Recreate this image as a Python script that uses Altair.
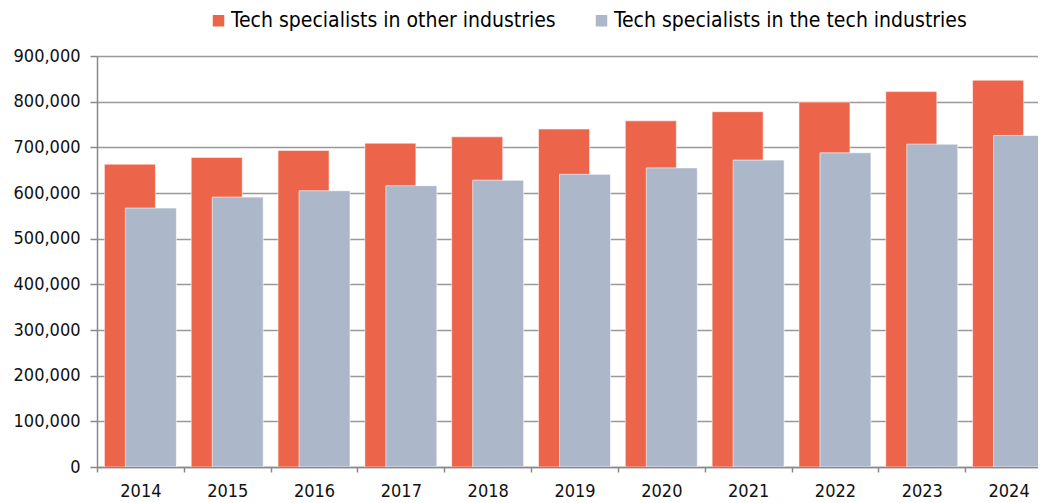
import altair as alt
import pandas as pd

years = ["2014", "2015", "2016", "2017", "2018", "2019", "2020", "2021", "2022", "2023", "2024"]
other_industries = [663000, 678000, 693000, 709000, 723000, 740000, 758000, 778000, 799000, 822000, 847000]
tech_industries = [567000, 591000, 605000, 616000, 628000, 641000, 655000, 672000, 688000, 707000, 726000]
series_names = ["Tech specialists in other industries", "Tech specialists in the tech industries"]
series_colors = ["#EC654B", "#ADB7CA"]
y_ticks = [0, 100000, 200000, 300000, 400000, 500000, 600000, 700000, 800000, 900000]

df = pd.DataFrame({
    "year": years + years,
    "series": [series_names[0]] * len(years) + [series_names[1]] * len(years),
    "value": other_industries + tech_industries,
})

FONT = "DejaVu Sans Condensed, Open Sans, sans-serif"

x = alt.X(
    "year:N",
    title=None,
    sort=years,
    scale=alt.Scale(paddingInner=0, paddingOuter=0, range=[0, 955]),
    axis=alt.Axis(
        labelAngle=0, tickBand="extent", grid=False,
        domainColor="#888888", domainWidth=1.5, tickColor="#888888", tickWidth=1.5,
        tickSize=5, labelPadding=10,
    ),
)
y = alt.Y(
    "value:Q",
    title=None,
    scale=alt.Scale(domain=[0, 900000], nice=False),
    axis=alt.Axis(
        values=y_ticks, format=",.0f", grid=True, gridColor="#999999", gridWidth=1.5,
        domainColor="#888888", domainWidth=1.5, tickColor="#888888", tickWidth=1.5,
        tickSize=7, labelPadding=10,
    ),
)
color = alt.Color(
    "series:N",
    scale=alt.Scale(domain=series_names, range=series_colors),
    legend=alt.Legend(
        title=None, orient="none", legendX=111, legendY=-46, direction="horizontal",
        symbolType="square", symbolSize=132, symbolStrokeWidth=0,
        labelFontSize=21, labelFont=FONT, labelColor="#000000", labelOffset=2,
        columnPadding=35, padding=0, labelLimit=1000,
    ),
)

base = alt.Chart(df).encode(x=x, y=y, color=color)
red = base.transform_filter(alt.datum.series == series_names[0]).mark_bar(
    xOffset=-10.5, width=51, stroke="#ffffff", strokeWidth=1, strokeOpacity=0.5, clip=True
)
gray = base.transform_filter(alt.datum.series == series_names[1]).mark_bar(
    xOffset=10.5, width=51, stroke="#ffffff", strokeWidth=1, strokeOpacity=0.6, clip=True
)

chart = (
    alt.layer(red, gray)
    .properties(
        width=941, height=411,
        autosize=alt.AutoSizeParams(type="none"),
        padding={"left": 89, "top": 48, "right": 0, "bottom": 40},
    )
    .configure_view(stroke=None)
    .configure_axis(labelFont=FONT, labelFontSize=18, labelColor="#111111")
)

chart.save("out.html", embed_options={"renderer": "svg", "actions": False})
